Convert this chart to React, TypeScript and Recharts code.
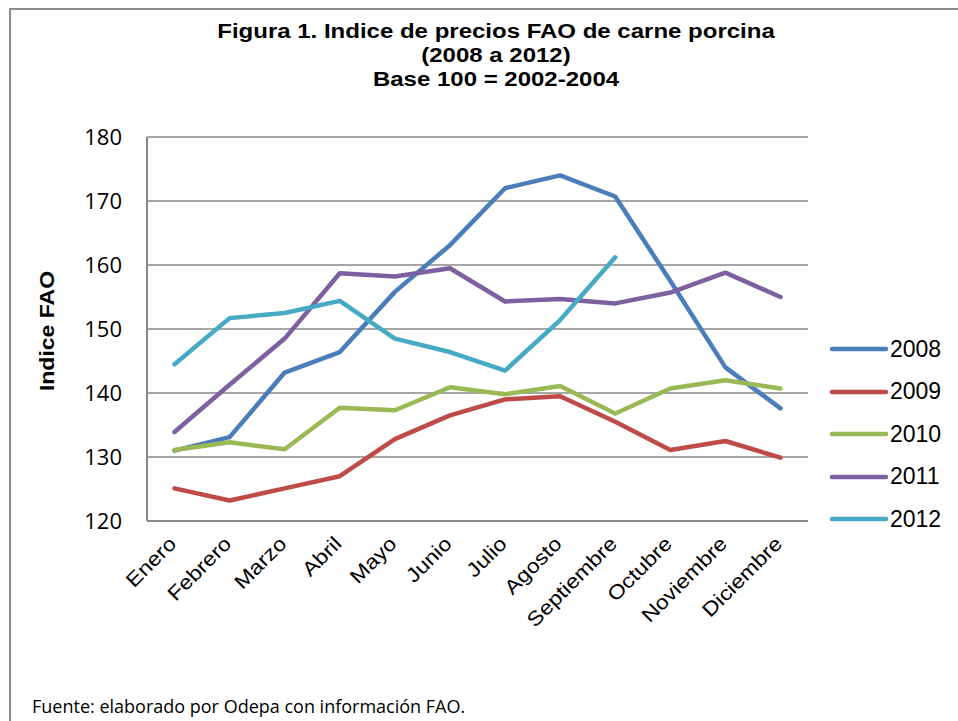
import React from "react";
import {
  LineChart,
  Line,
  XAxis,
  YAxis,
  CartesianGrid,
} from "recharts";

const MONTHS = [
  "Enero",
  "Febrero",
  "Marzo",
  "Abril",
  "Mayo",
  "Junio",
  "Julio",
  "Agosto",
  "Septiembre",
  "Octubre",
  "Noviembre",
  "Diciembre",
];

const Y2008 = [131.0, 133.1, 143.2, 146.4, 155.8, 163.1, 172.0, 174.0, 170.7, 157.5, 144.0, 137.6];
const Y2009 = [125.1, 123.2, 125.1, 127.0, 132.8, 136.5, 139.0, 139.5, 135.5, 131.1, 132.5, 129.9];
const Y2010 = [131.1, 132.3, 131.2, 137.7, 137.3, 140.9, 139.8, 141.1, 136.8, 140.7, 142.0, 140.7];
const Y2011 = [133.9, 141.3, 148.5, 158.7, 158.2, 159.5, 154.3, 154.7, 154.0, 155.7, 158.8, 155.0];
const Y2012 = [144.5, 151.7, 152.5, 154.4, 148.5, 146.4, 143.5, 151.4, 161.2, null, null, null];

const Y_TICKS = [120, 130, 140, 150, 160, 170, 180];

const SERIES = [
  { key: "2008", values: Y2008, color: "#4a7ebb" },
  { key: "2009", values: Y2009, color: "#be4b48" },
  { key: "2010", values: Y2010, color: "#98b954" },
  { key: "2011", values: Y2011, color: "#7d60a0" },
  { key: "2012", values: Y2012, color: "#46aac5" },
];

const data = MONTHS.map((m, i) => {
  const row: Record<string, string | number | null> = { month: m };
  SERIES.forEach((s) => {
    row[s.key] = s.values[i];
  });
  return row;
});

const GRAY = "#888888";
const ARIAL = "Liberation Sans, Arial, sans-serif";

function MonthTick({ x, y, payload }: any) {
  return (
    <g transform={`translate(${x + 3},${y + 16})`}>
      <text
        x={0}
        y={0}
        textAnchor="end"
        transform="rotate(-45) scale(1.15,1)"
        fontFamily={ARIAL}
        fontSize={20}
        fill="#000"
      >
        {payload.value}
      </text>
    </g>
  );
}

export default function App() {
  return (
    <div
      style={{
        position: "fixed",
        left: 0,
        top: 0,
        width: 958,
        height: 721,
        background: "#fff",
        overflow: "hidden",
      }}
    >
      {/* frame */}
      <div style={{ position: "absolute", left: 9, top: 8, width: 2, height: 713, background: "#8c8c8c" }} />
      <div style={{ position: "absolute", left: 9, top: 8, width: 949, height: 2, background: "#8c8c8c" }} />

      {/* title */}
      <div
        style={{
          position: "absolute",
          left: 0,
          top: 19,
          width: 992,
          textAlign: "center",
          fontFamily: ARIAL,
          fontWeight: "bold",
          fontSize: 20,
          lineHeight: "24px",
          color: "#000",
          transform: "scaleX(1.2)",
          transformOrigin: "496px 0",
        }}
      >
        <div>Figura 1. Indice de precios FAO de carne porcina</div>
        <div>(2008 a 2012)</div>
        <div>Base 100 = 2002-2004</div>
      </div>

      {/* y axis label */}
      <div
        style={{
          position: "absolute",
          left: 47,
          top: 331,
          transform: "translate(-50%, -50%) rotate(-90deg) scaleX(1.15)",
          whiteSpace: "nowrap",
          fontFamily: ARIAL,
          fontWeight: "bold",
          fontSize: 20,
          color: "#000",
        }}
      >
        Indice FAO
      </div>

      <div style={{ position: "absolute", left: 0, top: 0 }}>
        <LineChart
          width={958}
          height={721}
          data={data}
          margin={{ top: 137, right: 150, bottom: 100, left: 87 }}
        >
          <CartesianGrid vertical={false} stroke={GRAY} strokeWidth={1.5} />
          <XAxis
            dataKey="month"
            height={100}
            interval={0}
            padding={{ left: 27.5, right: 27.5 }}
            tickLine={false}
            axisLine={{ stroke: GRAY, strokeWidth: 2 }}
            tick={<MonthTick />}
          />
          <YAxis
            width={60}
            domain={[120, 180]}
            ticks={Y_TICKS}
            interval={0}
            tickLine={false}
            tickSize={0}
            tickMargin={25}
            axisLine={{ stroke: GRAY, strokeWidth: 2 }}
            tick={{ fill: "#000", fontSize: 22, fontFamily: "Open Sans, sans-serif" }}
          />
          {SERIES.map((s) => (
            <Line
              key={s.key}
              dataKey={s.key}
              stroke={s.color}
              strokeWidth={4.5}
              strokeLinejoin="round"
              strokeLinecap="round"
              dot={false}
              activeDot={false}
              connectNulls={false}
              isAnimationActive={false}
            />
          ))}
        </LineChart>
      </div>

      {/* legend */}
      <div style={{ position: "absolute", left: 829, top: 328 }}>
        {SERIES.map((s) => (
          <div
            key={s.key}
            style={{ display: "flex", alignItems: "center", height: 42.5 }}
          >
            <svg width={60} height={10}>
              <line x1={3} y1={5} x2={57} y2={5} stroke={s.color} strokeWidth={4.5} strokeLinecap="round" />
            </svg>
            <span
              style={{
                fontFamily: ARIAL,
                fontSize: 23,
                color: "#000",
                marginLeft: 1,
              }}
            >
              {s.key}
            </span>
          </div>
        ))}
      </div>

      {/* source */}
      <div
        style={{
          position: "absolute",
          left: 32,
          top: 694,
          fontFamily: "Open Sans, sans-serif",
          fontSize: 18,
          color: "#000",
          whiteSpace: "nowrap",
        }}
      >
        Fuente: elaborado por Odepa con información FAO.
      </div>
    </div>
  );
}
